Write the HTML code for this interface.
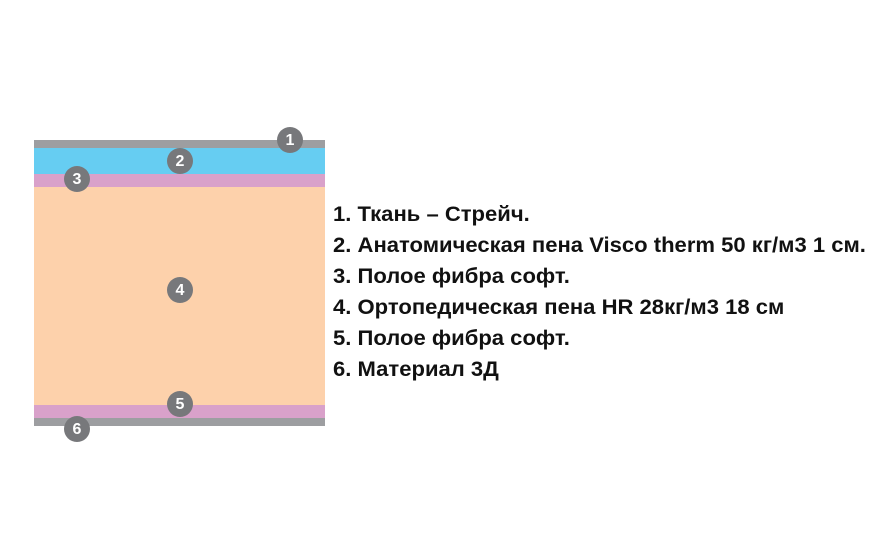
<!DOCTYPE html>
<html><head><meta charset="utf-8"><style>
body{margin:0;width:880px;height:550px;background:#fff;position:relative;overflow:hidden;font-family:"Liberation Sans",sans-serif}
.l{position:absolute;left:34px;width:291px}
.c{position:absolute;width:26px;height:26px;border-radius:50%;background:#77787b;color:#fff;font-weight:bold;font-size:16px;line-height:27px;text-align:center}
.t{position:absolute;left:333px;font-weight:bold;font-size:21px;color:#111;white-space:nowrap;transform-origin:0 50%;transform:scaleX(1.05)}
</style></head><body>
<div class="l" style="top:140px;height:8px;background:#9d9ea1"></div>
<div class="l" style="top:148px;height:26px;background:#66cdf2"></div>
<div class="l" style="top:174px;height:13px;background:#d9a1ca"></div>
<div class="l" style="top:187px;height:218px;background:#fdd1ab"></div>
<div class="l" style="top:405px;height:13px;background:#d9a1ca"></div>
<div class="l" style="top:418px;height:8px;background:#9d9ea1"></div>
<div class="c" style="left:277px;top:127px">1</div>
<div class="c" style="left:167px;top:148px">2</div>
<div class="c" style="left:64px;top:166px">3</div>
<div class="c" style="left:167px;top:277px">4</div>
<div class="c" style="left:167px;top:391px">5</div>
<div class="c" style="left:64px;top:416px">6</div>
<div class="t" style="top:203px">1. Ткань – Стрейч.</div>
<div class="t" style="top:234px">2. Анатомическая пена Visco therm 50 кг/м3 1 см.</div>
<div class="t" style="top:265px">3. Полое фибра софт.</div>
<div class="t" style="top:296px">4. Ортопедическая пена HR 28кг/м3 18 см</div>
<div class="t" style="top:327px">5. Полое фибра софт.</div>
<div class="t" style="top:358px">6. Материал 3Д</div>
</body></html>
